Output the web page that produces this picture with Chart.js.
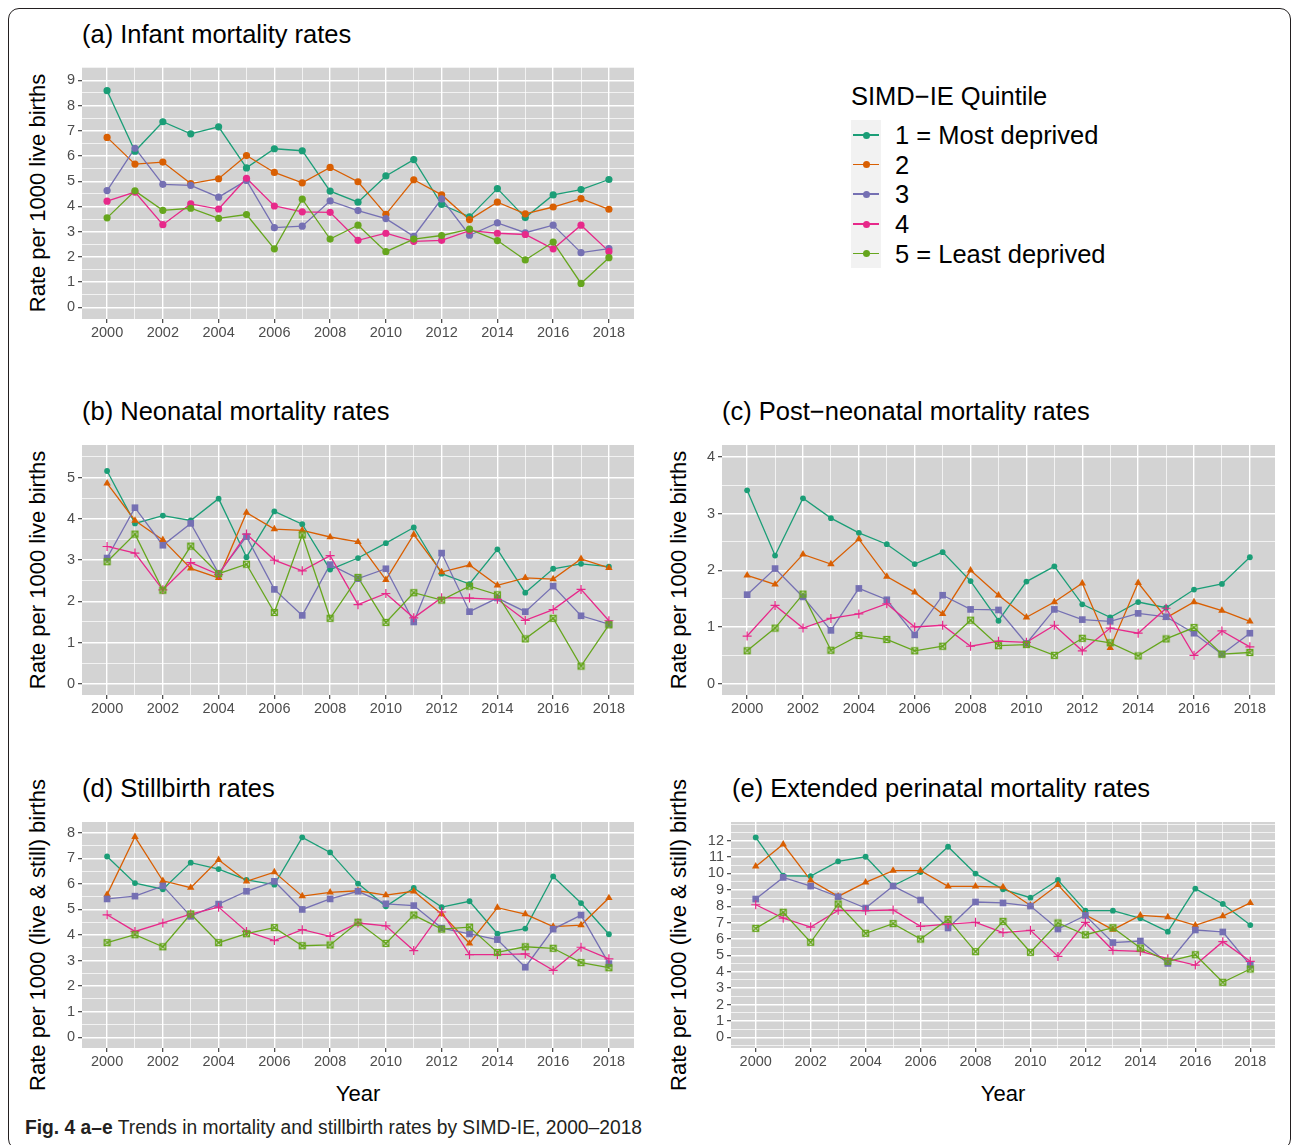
<!DOCTYPE html>
<html><head><meta charset="utf-8">
<script src="https://cdn.jsdelivr.net/npm/chart.js@4.4.1/dist/chart.umd.min.js"></script>
<style>
body{margin:0;background:#fff;}
#page{position:relative;width:1292px;height:1145px;overflow:hidden;font-family:"Liberation Sans",Arial,sans-serif;color:#000;}
.frame{position:absolute;left:8px;top:8px;width:1281px;height:1140px;border:1.5px solid #231f20;border-radius:11px;}
.ptitle{position:absolute;font-size:25.5px;white-space:nowrap;line-height:1;transform:translateY(-50%);}
.ytitle{position:absolute;font-size:22px;white-space:nowrap;line-height:1;transform:translate(-50%,-50%) rotate(-90deg);}
.xtitle{position:absolute;font-size:22px;white-space:nowrap;line-height:1;transform:translate(-50%,-50%);}
.leg{position:absolute;font-size:25.5px;white-space:nowrap;line-height:1;transform:translateY(-50%);}
.keybg{position:absolute;left:851px;top:120px;width:30px;height:148px;background:#f2f2f2;}
.kline{position:absolute;left:853px;width:26px;height:1.4px;}
.kdot{position:absolute;left:862.5px;width:7px;height:7px;border-radius:50%;}
.caption{position:absolute;left:25px;top:1127px;transform-origin:0 50%;transform:translateY(-50%) scaleX(0.962);font-family:"Liberation Sans",Arial,sans-serif;font-size:20px;color:#231f20;white-space:nowrap;line-height:1;}
canvas{position:absolute;}
</style>
</head>
<body>
<div id="page">
  <div class="frame"></div>
  <div class="ptitle" style="left:82px;top:35px;">(a) Infant mortality rates</div>
  <div class="ptitle" style="left:82px;top:412px;">(b) Neonatal mortality rates</div>
  <div class="ptitle" style="left:722px;top:412px;">(c) Post−neonatal mortality rates</div>
  <div class="ptitle" style="left:82px;top:789px;">(d) Stillbirth rates</div>
  <div class="ptitle" style="left:732px;top:789px;">(e) Extended perinatal mortality rates</div>

  <div class="ytitle" style="left:38px;top:193px;">Rate per 1000 live births</div>
  <div class="ytitle" style="left:38px;top:570px;">Rate per 1000 live births</div>
  <div class="ytitle" style="left:679px;top:570px;">Rate per 1000 live births</div>
  <div class="ytitle" style="left:38px;top:935px;">Rate per 1000 (live &amp; still) births</div>
  <div class="ytitle" style="left:679px;top:935px;">Rate per 1000 (live &amp; still) births</div>

  <div class="xtitle" style="left:358px;top:1094px;">Year</div>
  <div class="xtitle" style="left:1003px;top:1094px;">Year</div>

  <div class="leg" style="left:851px;top:97px;">SIMD−IE Quintile</div>
  <div class="keybg"></div>
  <div id="legendItems"></div>

  <div class="caption"><b>Fig. 4 a–e</b> Trends in mortality and stillbirth rates by SIMD-IE, 2000–2018</div>
</div>
<script>
// ---------------- DATA ----------------
const years = [2000,2001,2002,2003,2004,2005,2006,2007,2008,2009,2010,2011,2012,2013,2014,2015,2016,2017,2018];
const quintileLabels = ["1 = Most deprived","2","3","4","5 = Least deprived"];
const colors = ["#1B9E77","#D95F02","#7570B3","#E7298A","#66A61E"];

// (a) Infant mortality
const infantQ1 = [8.59,6.19,7.36,6.88,7.16,5.53,6.29,6.21,4.61,4.17,5.21,5.86,4.08,3.59,4.71,3.56,4.46,4.67,5.07];
const infantQ2 = [6.74,5.68,5.76,4.91,5.10,6.02,5.35,4.94,5.55,4.98,3.69,5.06,4.46,3.48,4.17,3.71,3.98,4.31,3.89];
const infantQ3 = [4.63,6.31,4.88,4.84,4.37,5.03,3.16,3.22,4.22,3.84,3.52,2.82,4.30,2.86,3.35,2.96,3.26,2.17,2.33];
const infantQ4 = [4.21,4.57,3.28,4.10,3.90,5.12,4.02,3.79,3.77,2.66,2.94,2.62,2.66,3.04,2.94,2.89,2.32,3.26,2.22];
const infantQ5 = [3.55,4.62,3.85,3.93,3.53,3.68,2.32,4.29,2.71,3.26,2.21,2.71,2.85,3.10,2.65,1.88,2.59,0.95,1.97];

// (b) Neonatal mortality
const neoQ1 = [5.16,3.89,4.08,3.96,4.49,3.07,4.18,3.87,2.77,3.05,3.41,3.79,2.67,2.42,3.26,2.21,2.79,2.91,2.84];
const neoQ2 = [4.86,3.96,3.49,2.80,2.57,4.15,3.75,3.72,3.56,3.44,2.52,3.62,2.71,2.88,2.39,2.57,2.54,3.03,2.81];
const neoQ3 = [3.05,4.27,3.36,3.89,2.68,3.57,2.29,1.66,2.89,2.55,2.79,1.50,3.17,1.75,2.08,1.75,2.37,1.65,1.45];
const neoQ4 = [3.33,3.17,2.28,2.94,2.65,3.63,3.00,2.74,3.11,1.92,2.19,1.60,2.09,2.08,2.05,1.54,1.80,2.29,1.53];
const neoQ5 = [2.96,3.63,2.27,3.34,2.67,2.90,1.73,3.61,1.59,2.58,1.49,2.21,2.03,2.37,2.16,1.09,1.59,0.43,1.43];

// (c) Post-neonatal mortality
const postQ1 = [3.41,2.26,3.27,2.92,2.66,2.46,2.11,2.32,1.81,1.11,1.80,2.07,1.40,1.17,1.44,1.34,1.66,1.76,2.23];
const postQ2 = [1.91,1.75,2.28,2.11,2.55,1.89,1.61,1.23,2.00,1.56,1.17,1.44,1.77,0.63,1.78,1.16,1.44,1.29,1.10];
const postQ3 = [1.57,2.03,1.53,0.94,1.68,1.48,0.86,1.56,1.31,1.30,0.71,1.31,1.13,1.10,1.24,1.18,0.89,0.52,0.89];
const postQ4 = [0.84,1.38,0.98,1.15,1.23,1.41,1.00,1.03,0.66,0.75,0.73,1.03,0.58,0.98,0.89,1.33,0.50,0.93,0.65];
const postQ5 = [0.58,0.98,1.58,0.59,0.85,0.78,0.58,0.66,1.12,0.67,0.69,0.50,0.80,0.72,0.49,0.79,0.99,0.52,0.55];

// (d) Stillbirth
const stillQ1 = [7.07,6.03,5.79,6.83,6.58,6.16,5.97,7.82,7.23,6.01,5.12,5.84,5.09,5.32,4.05,4.25,6.29,5.25,4.03];
const stillQ2 = [5.58,7.84,6.12,5.85,6.94,6.10,6.46,5.52,5.67,5.73,5.56,5.71,4.82,3.67,5.07,4.82,4.33,4.39,5.45];
const stillQ3 = [5.41,5.52,5.92,4.73,5.21,5.71,6.10,5.00,5.41,5.71,5.22,5.15,4.27,4.04,3.82,2.74,4.23,4.78,2.88];
const stillQ4 = [4.79,4.14,4.47,4.82,5.09,4.14,3.78,4.21,3.95,4.47,4.36,3.39,4.90,3.23,3.23,3.26,2.62,3.52,3.07];
const stillQ5 = [3.70,4.01,3.54,4.82,3.70,4.05,4.29,3.58,3.61,4.50,3.67,4.78,4.23,4.31,3.32,3.54,3.48,2.92,2.72];

// (e) Extended perinatal mortality
const periQ1 = [12.20,9.86,9.84,10.74,11.02,9.25,10.09,11.63,9.99,9.03,8.52,9.60,7.73,7.73,7.26,6.45,9.07,8.14,6.85];
const periQ2 = [10.43,11.78,9.58,8.60,9.46,10.17,10.17,9.21,9.21,9.17,8.05,9.31,7.48,6.57,7.44,7.34,6.83,7.40,8.20];
const periQ3 = [8.44,9.76,9.23,8.58,7.89,9.23,8.38,6.67,8.26,8.20,8.01,6.61,7.44,5.78,5.88,4.51,6.55,6.43,4.41];
const periQ4 = [8.09,7.28,6.73,7.75,7.73,7.77,6.77,6.91,7.02,6.39,6.53,4.94,7.02,5.31,5.25,4.80,4.41,5.84,4.64];
const periQ5 = [6.65,7.63,5.80,8.14,6.35,6.94,6.00,7.20,5.23,7.08,5.19,6.98,6.26,6.69,5.45,4.64,5.04,3.36,4.17];

// ---------------- RENDER ----------------
const FONT = '"Liberation Sans", Arial, sans-serif';
const PADL = 50, PADT = 12, PADR = 12, PADB = 30;

const bgPlugin = {
  id: 'panelBg',
  beforeDraw(chart) {
    const a = chart.chartArea, g = chart.ctx;
    g.save(); g.fillStyle = '#d3d3d3';
    g.fillRect(a.left, a.top, a.right - a.left, a.bottom - a.top);
    g.restore();
  }
};

function boxCross(color) {
  const cv = document.createElement('canvas');
  cv.width = 9; cv.height = 9;
  const g = cv.getContext('2d');
  g.strokeStyle = color; g.lineWidth = 1.2;
  g.strokeRect(1.5, 1.5, 6, 6);
  g.beginPath(); g.moveTo(1.5, 1.5); g.lineTo(7.5, 7.5); g.moveTo(7.5, 1.5); g.lineTo(1.5, 7.5); g.stroke();
  return cv;
}

function pointSpec(i, shaped) {
  if (!shaped) return {style: 'circle', r: 3.6, bw: 0};
  switch (i) {
    case 0: return {style: 'circle', r: 2.9, bw: 0};
    case 1: return {style: 'triangle', r: 4.3, bw: 0};
    case 2: return {style: 'rect', r: 4.7, bw: 0};
    case 3: return {style: 'cross', r: 4.5, bw: 1.2};
    default: return {style: boxCross(colors[4]), r: 4.5, bw: 1};
  }
}

function makePanel(box, yMin, yMax, yLabMax, seriesList, shaped) {
  const c = document.createElement('canvas');
  c.width = (box.r - box.l) + PADL + PADR;
  c.height = (box.b - box.t) + PADT + PADB;
  c.style.left = (box.l - PADL) + 'px';
  c.style.top = (box.t - PADT) + 'px';
  document.getElementById('page').appendChild(c);

  const datasets = [];
  seriesList.forEach((vals, i) => {
    const pts = years.map((yr, k) => ({x: yr, y: vals[k]}));
    datasets.push({
      label: quintileLabels[i] + ' line', data: pts, borderColor: colors[i], borderWidth: 1.3,
      pointRadius: 0, fill: false, tension: 0, order: 20 - i
    });
    const ps = pointSpec(i, shaped);
    datasets.push({
      label: quintileLabels[i], data: pts, showLine: false, pointStyle: ps.style,
      pointRadius: ps.r, pointBorderWidth: ps.bw, pointBackgroundColor: colors[i],
      pointBorderColor: colors[i], order: 10 - i
    });
  });

  const xMajor = v => v % 2 === 0;
  const yMajor = v => Number.isInteger(v) && v >= 0 && v <= yLabMax;

  new Chart(c, {
    type: 'line',
    data: {datasets},
    options: {
      responsive: false, animation: false, devicePixelRatio: 1,
      layout: {padding: {left: 0, top: PADT, right: PADR, bottom: 0}},
      plugins: {legend: {display: false}, tooltip: {enabled: false}, title: {display: false}},
      events: [],
      scales: {
        x: {
          type: 'linear', min: 1999.1, max: 2018.9,
          afterBuildTicks(s) { const t = []; for (let v = 2000; v <= 2018; v++) t.push({value: v}); s.ticks = t; },
          afterFit(s) { s.height = PADB; },
          ticks: {autoSkip: false, maxRotation: 0, minRotation: 0, padding: 1, color: '#4d4d4d',
                  font: {family: FONT, size: 14.5}, callback: v => xMajor(v) ? String(v) : ''},
          grid: {color: '#ffffff', lineWidth: ctx => (ctx.tick && xMajor(ctx.tick.value)) ? 1.4 : 0.7,
                 drawTicks: true, tickLength: 4, tickWidth: 1.1,
                 tickColor: ctx => (ctx.tick && xMajor(ctx.tick.value)) ? '#333333' : 'rgba(0,0,0,0)'},
          border: {display: false}
        },
        y: {
          type: 'linear', min: yMin, max: yMax,
          afterBuildTicks(s) { const t = []; for (let k = Math.ceil(yMin * 2); k / 2 <= yMax; k++) t.push({value: k / 2}); s.ticks = t; },
          afterFit(s) { s.width = PADL; },
          ticks: {autoSkip: false, padding: 3, color: '#4d4d4d',
                  font: {family: FONT, size: 14.5}, callback: v => yMajor(v) ? String(v) : ''},
          grid: {color: '#ffffff', lineWidth: ctx => (ctx.tick && yMajor(ctx.tick.value)) ? 1.4 : 0.7,
                 drawTicks: true, tickLength: 4, tickWidth: 1.1,
                 tickColor: ctx => (ctx.tick && yMajor(ctx.tick.value)) ? '#333333' : 'rgba(0,0,0,0)'},
          border: {display: false}
        }
      }
    },
    plugins: [bgPlugin]
  });
}

makePanel({l: 82, t: 67, r: 634, b: 319}, -0.46, 9.53, 9, [infantQ1, infantQ2, infantQ3, infantQ4, infantQ5], false);
makePanel({l: 82, t: 445, r: 634, b: 695}, -0.27, 5.79, 5, [neoQ1, neoQ2, neoQ3, neoQ4, neoQ5], true);
makePanel({l: 722, t: 445, r: 1275, b: 695}, -0.20, 4.21, 4, [postQ1, postQ2, postQ3, postQ4, postQ5], true);
makePanel({l: 82, t: 822, r: 634, b: 1048}, -0.42, 8.42, 8, [stillQ1, stillQ2, stillQ3, stillQ4, stillQ5], true);
makePanel({l: 731, t: 822, r: 1275, b: 1048}, -0.65, 13.14, 12, [periQ1, periQ2, periQ3, periQ4, periQ5], true);

// Legend (HTML)
const legendCenters = [135, 164.5, 194, 224, 253.5];
const li = document.getElementById('legendItems');
quintileLabels.forEach((lab, i) => {
  const cy = legendCenters[i];
  const ln = document.createElement('div'); ln.className = 'kline';
  ln.style.top = (cy - 0.7) + 'px'; ln.style.background = colors[i]; li.appendChild(ln);
  const dt = document.createElement('div'); dt.className = 'kdot';
  dt.style.top = (cy - 3.5) + 'px'; dt.style.background = colors[i]; li.appendChild(dt);
  const tx = document.createElement('div'); tx.className = 'leg';
  tx.style.left = '895px'; tx.style.top = (cy + 1) + 'px'; tx.textContent = lab; li.appendChild(tx);
});
</script>
</body></html>
